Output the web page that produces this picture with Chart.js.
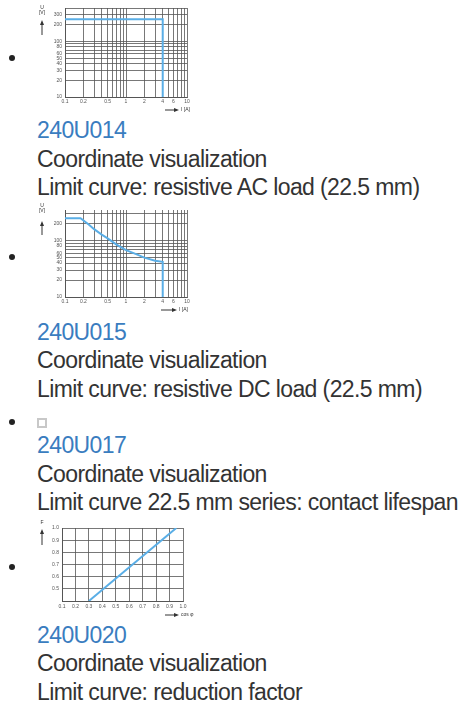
<!DOCTYPE html>
<html>
<head>
<meta charset="utf-8">
<title>Limit curves</title>
<script src="https://cdn.jsdelivr.net/npm/chart.js@4.4.0/dist/chart.umd.min.js"></script>
<style>
  body { margin: 0; background: #fff; overflow: hidden; font-family: "Liberation Sans", Arial, sans-serif; color: #333; }
  ul { list-style: none; margin: 0; padding: 0 0 0 37px; }
  li { position: relative; }
  .dot { position: absolute; left: -28px; width: 6px; height: 6px; border-radius: 50%; background: #222; }
  .pic { position: relative; width: 160px; }
  .line { font-size: 23px; line-height: 28.5px; height: 28.5px; letter-spacing: -0.6px; white-space: nowrap; }
  .code { color: #3a7dbf; }
  .broken { position: absolute; left: 0; top: 15px; width: 6px; height: 6px; border: 2px solid #c8c8c8; }
</style>
</head>
<body>
<ul>
  <li>
    <div class="dot" style="top:55px"></div>
    <div class="pic" style="height:116px"><canvas id="c1"></canvas></div>
    <div class="line code">240U014</div>
    <div class="line">Coordinate visualization</div>
    <div class="line">Limit curve: resistive AC load (22.5 mm)</div>
  </li>
  <li>
    <div class="dot" style="top:52px"></div>
    <div class="pic" style="height:116px"><canvas id="c2"></canvas></div>
    <div class="line code">240U015</div>
    <div class="line">Coordinate visualization</div>
    <div class="line">Limit curve: resistive DC load (22.5 mm)</div>
  </li>
  <li>
    <div class="dot" style="top:16px"></div>
    <div class="pic" style="height:28px"><span class="broken"></span></div>
    <div class="line code">240U017</div>
    <div class="line">Coordinate visualization</div>
    <div class="line">Limit curve 22.5 mm series: contact lifespan</div>
  </li>
  <li>
    <div class="dot" style="top:47px"></div>
    <div class="pic" style="height:104px"><canvas id="c4"></canvas></div>
    <div class="line code">240U020</div>
    <div class="line">Coordinate visualization</div>
    <div class="line">Limit curve: reduction factor</div>
  </li>
</ul>

<script>
  // AC limit curve (current A, voltage V)
  const acCurrent = [0.1, 4, 4];
  const acVoltage = [250, 250, 10];
  // DC limit curve
  const dcCurrent = [0.1, 0.18, 0.25, 0.3, 0.4, 0.5, 0.7, 1, 1.5, 2, 3, 4, 4];
  const dcVoltage = [250, 250, 190, 160, 128, 110, 85, 68, 57, 50, 44, 42, 10];
  // reduction factor line
  const cosPhi = [0.3, 0.95];
  const reduction = [0.4, 1.0];

  // grid lines and tick labels
  const currentGrid = [0.1, 0.2, 0.3, 0.4, 0.5, 0.6, 0.7, 0.8, 0.9, 1, 2, 3, 4, 5, 6, 7, 8, 9, 10];
  const currentLabels = [0.1, 0.2, 0.5, 1, 2, 4, 6, 10];
  const voltageGrid = [10, 20, 30, 40, 50, 60, 70, 80, 90, 100, 200, 300, 400];
  const acVoltageLabels = [10, 20, 30, 40, 50, 60, 80, 100, 200, 300];
  const dcVoltageLabels = [10, 20, 30, 40, 50, 60, 80, 100, 200, 250];

  const blue = '#5aaee6';
  const gridColor = '#555';
  const tickFont = { family: 'Liberation Sans', size: 5 };

  const axisNotes = {
    id: 'axisNotes',
    afterDraw(chart, args, o) {
      const c = chart.ctx;
      c.save();
      c.strokeStyle = '#333';
      c.fillStyle = '#333';
      c.lineWidth = 1;
      c.font = '5px "Liberation Sans"';
      c.textAlign = 'center';
      c.textBaseline = 'middle';
      const [yx, y0, y1] = o.yArrow;
      (o.yText || []).forEach((t, i) => c.fillText(t, yx, o.yTextTop + i * 5));
      c.beginPath(); c.moveTo(yx, y0); c.lineTo(yx, y1 + 3); c.stroke();
      c.beginPath(); c.moveTo(yx, y1); c.lineTo(yx - 2, y1 + 5); c.lineTo(yx + 2, y1 + 5); c.closePath(); c.fill();
      const [x0, x1, xy] = o.xArrow;
      c.beginPath(); c.moveTo(x0, xy); c.lineTo(x1 - 3, xy); c.stroke();
      c.beginPath(); c.moveTo(x1, xy); c.lineTo(x1 - 5, xy - 2); c.lineTo(x1 - 5, xy + 2); c.closePath(); c.fill();
      c.textAlign = 'left';
      c.fillText(o.xText, x1 + 2, xy);
      c.restore();
    }
  };

  const fmt = v => String(v);

  function logChart(id, xs, ys, yMax, yLabels, pad, notes) {
    return new Chart(document.getElementById(id), {
      type: 'line',
      data: {
        datasets: [{
          data: xs.map((x, i) => ({ x: x, y: ys[i] })),
          borderColor: blue,
          borderWidth: 2,
          pointRadius: 0,
          tension: 0,
          fill: false
        }]
      },
      options: {
        responsive: true,
        maintainAspectRatio: false,
        animation: false,
        events: [],
        layout: { padding: { top: pad.top, right: pad.right, left: 0, bottom: 0 } },
        plugins: { legend: { display: false }, tooltip: { enabled: false }, axisNotes: notes },
        scales: {
          x: {
            type: 'logarithmic', min: 0.1, max: 10,
            afterBuildTicks: s => { s.ticks = currentGrid.map(v => ({ value: v })); },
            afterFit: s => { s.height = pad.bottom; },
            grid: { color: gridColor, lineWidth: 0.8, drawTicks: false },
            border: { color: gridColor },
            ticks: { autoSkip: false, maxRotation: 0, padding: 2, color: '#555', font: tickFont,
                     callback: v => currentLabels.includes(v) ? fmt(v) : '' }
          },
          y: {
            type: 'logarithmic', min: 10, max: yMax,
            afterBuildTicks: s => { s.ticks = voltageGrid.filter(v => v <= yMax).map(v => ({ value: v })); },
            afterFit: s => { s.width = pad.left; },
            grid: { color: gridColor, lineWidth: 0.8, drawTicks: false },
            border: { color: gridColor },
            ticks: { autoSkip: false, padding: 3, color: '#555', font: tickFont,
                     callback: v => yLabels.includes(v) ? fmt(v) : '' }
          }
        }
      },
      plugins: [axisNotes]
    });
  }

  logChart('c1', acCurrent, acVoltage, 400, acVoltageLabels,
    { top: 8, right: 10, left: 28, bottom: 19 },
    { yText: ['U', '[V]'], yTextTop: 8, yArrow: [5, 35, 20], xArrow: [128, 142, 110], xText: 'I [A]' });

  logChart('c2', dcCurrent, dcVoltage, 350, dcVoltageLabels,
    { top: 8, right: 10, left: 28, bottom: 21 },
    { yText: ['U', '[V]'], yTextTop: 4, yArrow: [5, 33, 19], xArrow: [124, 140, 108], xText: 'I [A]' });

  new Chart(document.getElementById('c4'), {
    type: 'line',
    data: {
      datasets: [{
        data: cosPhi.map((x, i) => ({ x: x, y: reduction[i] })),
        borderColor: blue,
        borderWidth: 2,
        pointRadius: 0,
        fill: false
      }]
    },
    options: {
      responsive: true,
      maintainAspectRatio: false,
      animation: false,
      events: [],
      layout: { padding: { top: 11, right: 14, left: 0, bottom: 0 } },
      plugins: {
        legend: { display: false }, tooltip: { enabled: false },
        axisNotes: { yText: ['F'], yTextTop: 6, yArrow: [5, 28, 12], xArrow: [128, 142, 98], xText: 'cos φ' }
      },
      scales: {
        x: {
          type: 'linear', min: 0.1, max: 1.0,
          afterFit: s => { s.height = 20; },
          grid: { color: gridColor, lineWidth: 0.8, drawTicks: false },
          border: { color: gridColor },
          ticks: { stepSize: 0.1, autoSkip: false, maxRotation: 0, padding: 3, color: '#555', font: tickFont,
                   callback: v => v.toFixed(1) }
        },
        y: {
          type: 'linear', min: 0.4, max: 1.0,
          afterFit: s => { s.width = 25; },
          grid: { color: gridColor, lineWidth: 0.8, drawTicks: false },
          border: { color: gridColor },
          ticks: { stepSize: 0.1, autoSkip: false, padding: 3, color: '#555', font: tickFont,
                   callback: v => v < 0.45 ? '' : v.toFixed(1) }
        }
      }
    },
    plugins: [axisNotes]
  });
</script>
</body>
</html>
